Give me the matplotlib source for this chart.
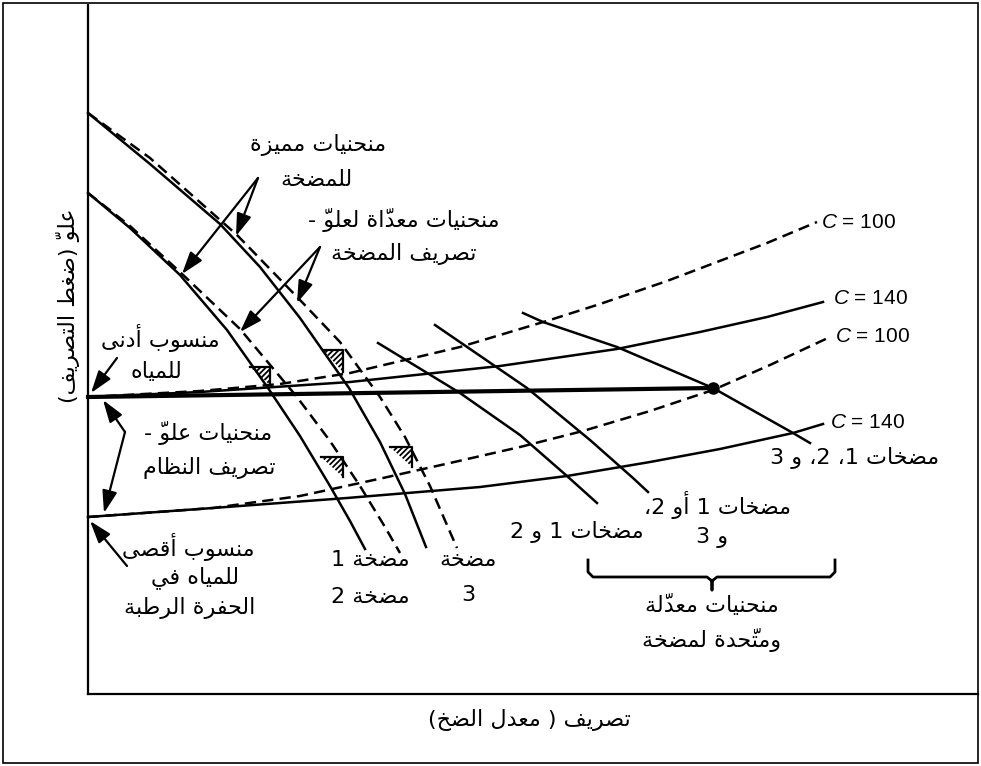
import matplotlib.pyplot as plt
from matplotlib.patches import Polygon, Rectangle

plt.rcParams['mathtext.fontset'] = 'custom'
plt.rcParams['mathtext.it'] = 'Liberation Sans:italic'
plt.rcParams['mathtext.rm'] = 'Liberation Sans'
plt.rcParams['hatch.linewidth'] = 1.3

# everything, in pixel units (x right, y down)
# pump characteristic curves (solid) and adjusted curves (dashed)
pump1_x = [88, 130, 180, 227, 268, 300, 330, 350, 365]
pump1_y = [193, 228, 275, 330, 388, 436, 486, 521, 549]
pump1_adj_x = [88, 130, 180, 240, 297, 330, 360, 385, 400]
pump1_adj_y = [193, 226, 272, 329, 397, 441, 486, 527, 553]
pump2_x = [88, 150, 220, 260, 300, 349, 380, 405, 426]
pump2_y = [113, 164, 224, 267, 318, 388, 442, 494, 547]
pump2_adj_x = [88, 150, 237, 300, 340, 380, 405, 430, 457]
pump2_adj_y = [113, 158, 235, 300, 342, 397, 437, 486, 548]

# combined and adjusted pump curves
p12_x = [378, 460, 520, 567, 597]
p12_y = [343, 393, 435, 476, 503]
p123a_x = [435, 527, 590, 633, 648]
p123a_y = [325, 388, 440, 478, 492]
p123_x = [523, 543, 617, 713, 793, 810]
p123_y = [313, 322, 347, 388, 433, 443]

# system head curves
sys_hi140_x = [88, 200, 350, 500, 617, 700, 767, 823]
sys_hi140_y = [397, 392, 382, 366, 349, 332, 317, 302]
sys_hi100_x = [88, 200, 280, 350, 460, 550, 600, 667, 767, 817]
sys_hi100_y = [397, 391, 384, 373, 347, 320, 304, 281, 243, 222]
sys_lo140_x = [88, 213, 347, 480, 567, 650, 720, 793, 823]
sys_lo140_y = [517, 508, 498, 487, 476, 462, 449, 433, 424]
sys_lo100_x = [88, 213, 300, 383, 450, 520, 583, 650, 713, 770, 830]
sys_lo100_y = [517, 508, 496, 478, 463, 447, 431, 411, 390, 365, 337]
level_x = [88, 713]
level_y = [397, 388]
op_point = (713, 388)

c_labels = ['$C$ = 100', '$C$ = 140', '$C$ = 100', '$C$ = 140']
c_label_x = [821, 833, 835, 830]
c_label_y = [222, 298, 337, 422]

# water level symbols: corner (top right), width, height
hatch_x = [270, 343, 343, 412]
hatch_y = [367, 350, 457, 447]
hatch_w = [20, 20, 22, 22]
hatch_h = [18, 22, 20, 20]

# annotation arrows: tail -> tip
arrow_tail = [(258, 178), (258, 178), (320, 247), (320, 247), (117, 358),
              (125, 432), (125, 432), (127, 566)]
arrow_tip = [(182, 274), (236, 236), (240, 332), (297, 303), (91, 393),
             (103, 400), (104, 513), (90, 521)]

labels = ['منحنيات مميزة', 'للمضخة', 'منحنيات معدّاة لعلوّ -', 'تصريف المضخة',
          'منسوب أدنى', 'للمياه', 'منحنيات علوّ -', 'تصريف النظام',
          'منسوب أقصى', 'للمياه في', 'الحفرة الرطبة',
          'مضخة 1', 'مضخة 2', 'مضخة', '3',
          'مضخات 1 و 2', 'مضخات 1 أو 2،', 'و 3', 'مضخات 1، 2، و 3',
          'منحنيات معدّلة', 'ومتّحدة لمضخة']
label_x = [318, 316, 404, 404, 160, 156, 208, 209, 188, 195, 190,
           370, 370, 468, 468, 577, 717, 712, 855, 712, 712]
label_y = [145, 180, 220, 254, 338, 372, 433, 468, 547, 578, 608,
           560, 597, 560, 595, 532, 505, 538, 458, 605, 640]

xlabel = 'تصريف ( معدل الضخ)'
ylabel = 'علوّ (ضغط التصريف)'

# bracket under the combined curves
brace_x = [588, 588, 593, 707, 712, 712, 712, 717, 830, 835, 835]
brace_y = [560, 572, 577, 577, 581, 590, 581, 577, 577, 572, 560]


# --- tiny arabic shaper (no reshaper lib available) ---
DUAL = {'ب': 0xFE8F, 'ت': 0xFE95, 'ث': 0xFE99, 'ج': 0xFE9D, 'ح': 0xFEA1,
        'خ': 0xFEA5, 'س': 0xFEB1, 'ش': 0xFEB5, 'ص': 0xFEB9, 'ض': 0xFEBD,
        'ط': 0xFEC1, 'ظ': 0xFEC5, 'ع': 0xFEC9, 'غ': 0xFECD, 'ف': 0xFED1,
        'ق': 0xFED5, 'ك': 0xFED9, 'ل': 0xFEDD, 'م': 0xFEE1, 'ن': 0xFEE5,
        'ه': 0xFEE9, 'ي': 0xFEF1}
RIGHT = {'آ': 0xFE81, 'أ': 0xFE83, 'إ': 0xFE87, 'ا': 0xFE8D, 'ة': 0xFE93,
         'د': 0xFEA9, 'ذ': 0xFEAB, 'ر': 0xFEAD, 'ز': 0xFEAF, 'و': 0xFEED,
         'ى': 0xFEEF}


def ar(s):
    cl = []
    for ch in s:
        if '\u064b' <= ch <= '\u0652' and cl:
            cl[-1][1] += ch
        else:
            cl.append([ch, ''])
    shaped = []
    for i, (c, m) in enumerate(cl):
        if c in DUAL or c in RIGHT:
            prv = cl[i-1][0] if i > 0 else ''
            nxt = cl[i+1][0] if i + 1 < len(cl) else ''
            k = 0
            if prv in DUAL:
                k += 1
            if c in DUAL and (nxt in DUAL or nxt in RIGHT):
                k += 2
            base = DUAL.get(c, RIGHT.get(c))
            shaped.append(m + chr(base + k))   # mark drawn before its letter
        else:
            shaped.append(m + c)
    tokens = []
    for t in shaped:
        if t.isdigit() and tokens and tokens[-1].isdigit():
            tokens[-1] += t
        else:
            tokens.append(t)
    mirror = {'(': ')', ')': '('}
    return ''.join(mirror.get(t, t) for t in reversed(tokens))


fig = plt.figure(figsize=(9.81, 7.66), dpi=100)
ax = fig.add_axes([0, 0, 1, 1])
ax.set_xlim(0, 981)
ax.set_ylim(766, 0)
ax.axis('off')

lw = 1.8
dash = (0, (4.5, 2.5))

# frame and axes
ax.add_patch(Rectangle((3, 3), 975, 760, fill=False, lw=1.2, ec='k'))
ax.plot([88, 88], [5, 694], 'k-', lw=1.6)
ax.plot([88, 978], [694, 694], 'k-', lw=1.6)

ax.plot(pump1_x, pump1_y, 'k-', lw=lw)
ax.plot(pump2_x, pump2_y, 'k-', lw=lw)
ax.plot(pump1_adj_x, pump1_adj_y, 'k', ls=dash, lw=lw)
ax.plot(pump2_adj_x, pump2_adj_y, 'k', ls=dash, lw=lw)

ax.plot(p12_x, p12_y, 'k-', lw=lw)
ax.plot(p123a_x, p123a_y, 'k-', lw=lw)
ax.plot(p123_x, p123_y, 'k-', lw=lw)

ax.plot(sys_hi140_x, sys_hi140_y, 'k-', lw=lw)
ax.plot(sys_hi100_x, sys_hi100_y, 'k', ls=dash, lw=lw)
ax.plot(sys_lo140_x, sys_lo140_y, 'k-', lw=lw)
ax.plot(sys_lo100_x, sys_lo100_y, 'k', ls=dash, lw=lw)
ax.plot(level_x, level_y, 'k-', lw=3)
ax.plot(*op_point, 'ko', ms=8)

for s, x, y in zip(c_labels, c_label_x, c_label_y):
    ax.text(x, y, s, ha='left', va='center', fontsize=15, family='Liberation Sans')

for x, y, w, h in zip(hatch_x, hatch_y, hatch_w, hatch_h):
    ax.add_patch(Polygon([(x - w, y), (x, y), (x, y + h)], closed=True,
                         fill=False, hatch='//////', lw=0, ec='k'))
    ax.plot([x - w, x, x], [y, y, y + h], 'k-', lw=1.6)

for t, h in zip(arrow_tail, arrow_tip):
    ax.annotate('', xy=h, xytext=t,
                arrowprops=dict(arrowstyle='-|>,head_length=0.9,head_width=0.3',
                                mutation_scale=15, color='k', lw=1.6,
                                shrinkA=0, shrinkB=0))

ax.plot(brace_x, brace_y, 'k-', lw=2)

for s, x, y in zip(labels, label_x, label_y):
    ax.text(x, y, ar(s), ha='center', va='center', fontsize=16, family='DejaVu Sans')

ax.text(529, 720, ar(xlabel), ha='center', va='center', fontsize=16, family='DejaVu Sans')
ax.text(68, 306, ar(ylabel), ha='center', va='center', fontsize=16,
        family='DejaVu Sans', rotation=90)

fig.savefig('out.png', dpi=100)
